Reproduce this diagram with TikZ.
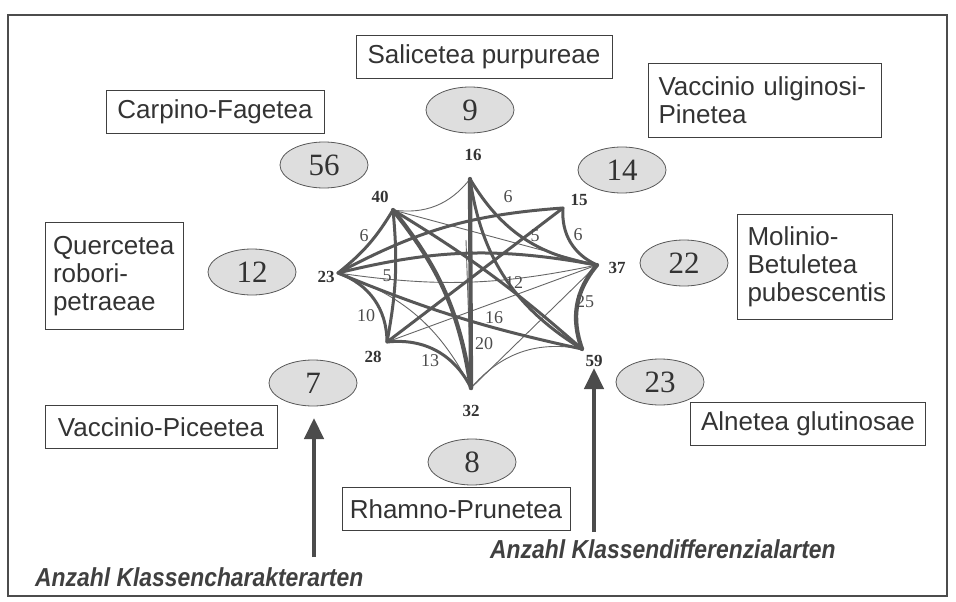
\documentclass[tikz,border=0pt]{standalone}
\usepackage{fontspec}
\setmainfont{Liberation Serif}
\newfontfamily\boxfont{Liberation Sans}
\newfontfamily\capfont[FakeStretch=0.88]{Liberation Sans}
\usetikzlibrary{shapes.geometric,arrows.meta}
\begin{document}
\begin{tikzpicture}[x=1pt,y=1pt,
  box/.style={draw=black!75,line width=0.9pt,font=\boxfont\fontsize{26}{28}\selectfont,text=black!80,inner sep=0pt,minimum height=43pt},
  mbox/.style={box,align=left,inner xsep=8pt,inner ysep=4pt},
  num/.style={ellipse,draw=black!65,fill=black!13,line width=0.8pt,minimum width=88pt,minimum height=46pt,inner sep=0pt,font=\fontsize{31}{31}\selectfont,text=black!80},
  vlab/.style={font=\bfseries\fontsize{17}{17}\selectfont,text=black!80},
  elab/.style={font=\fontsize{18}{18}\selectfont,text=black!70},
  thk/.style={draw=black!66,line width=3pt,line join=round,line cap=round},
  vthk/.style={thk,line width=4.3pt},
  thn/.style={draw=black!60,line width=0.9pt},
  arr/.style={draw=black!70,line width=4.5pt,-{Triangle[width=19pt,length=21pt]}},
  captext/.style={font=\capfont\bfseries\itshape\fontsize{26}{28}\selectfont,text=black!75,inner sep=0pt,anchor=base west}
]
\useasboundingbox (0,0) rectangle (956,-602);
\draw[black!70,line width=1.2pt] (8,-15) rectangle (947,-596);

% boxes
\node[box,minimum width=256pt] (sal) at (484,-57) {Salicetea purpureae};
\node[mbox,inner xsep=10pt,text width=213pt,minimum height=74pt] (vul) at (765,-100) {Vaccinio uliginosi-\\Pinetea};
\node[box,minimum width=218pt] (car) at (215,-112) {Carpino-Fagetea};
\node[mbox,text width=122pt,minimum height=107pt] (que) at (114,-276) {Quercetea\\robori-\\petraeae};
\node[mbox,inner xsep=10pt,text width=135pt,minimum height=105pt] (mol) at (815,-267) {Molinio-\\Betuletea\\pubescentis};
\node[box,minimum width=232pt] (vpi) at (161,-427) {Vaccinio-Piceetea};
\node[box,minimum width=235pt] (aln) at (808,-424) {Alnetea glutinosae};
\node[box,minimum width=228pt] (rha) at (456,-509) {Rhamno-Prunetea};

% ellipses
\node[num] (e9) at (470,-110) {9};
\node[num] (e56) at (324,-165) {56};
\node[num] (e14) at (622,-170) {14};
\node[num] (e12) at (252,-272) {12};
\node[num] (e22) at (684,-263) {22};
\node[num] (e7) at (313,-383) {7};
\node[num] (e23) at (660,-382) {23};
\node[num] (e8) at (472,-462) {8};

% graph vertices
\coordinate (v16) at (470,-179);
\coordinate (v15) at (563,-208);
\coordinate (v37) at (597,-265);
\coordinate (v59) at (582,-349);
\coordinate (v32) at (471,-388);
\coordinate (v28) at (387,-342);
\coordinate (v23) at (338,-273);
\coordinate (v40) at (393,-210);
\coordinate (m16) at (466,-240);

% thin edges
\draw[thn] (v40) to[bend right=30] (v16);
\draw[thn] (v59) to[bend right=30] (v32);
\draw[thn] (v23) to[bend right=10] (v37);
\draw[thn] (v23) to[bend left=22] (v32);
\draw[thn] (v32) -- (v37);
\draw[thn] (v28) -- (v37);
\draw[thn] (v40) -- (v37);
\draw[thn] (m16) -- (v32);

% thick outer edges
\draw[thk] (v23) to[bend right=10] (v40);
\draw[thk] (v28) to[bend right=35] (v23);
\draw[thk] (v32) to[bend right=35] (v28);
\draw[vthk] (v37) to[bend right=30] (v59);
\draw[thk] (v15) to[bend right=35] (v37);
\draw[thk] (v16) to[bend right=25] (v37);

% thick diagonals
\draw[thk] (v23) to[bend left=12] (v15);
\draw[thk] (v23) to[bend left=12] (v37);
\draw[thk] (v23) to[bend right=5] (v59);
\draw[thk] (v40) to[bend left=8] (v28);
\draw[vthk] (v40) to[bend left=15] (v32);
\draw[thk] (v40) to[bend left=5] (v59);
\draw[vthk] (v16) -- (v32);
\draw[thk] (v16) to[bend right=25] (v59);
\draw[thk] (v15) -- (v28);

% vertex labels
\node[vlab] (l16) at (473,-155) {16};
\node[vlab] (l40) at (380,-197) {40};
\node[vlab] (l15) at (579,-200) {15};
\node[vlab] (l23) at (326,-277) {23};
\node[vlab] (l37) at (617,-268) {37};
\node[vlab] (l28) at (373,-357) {28};
\node[vlab] (l59) at (594,-361) {59};
\node[vlab] (l32) at (471,-411) {32};

% edge labels
\node[elab] (a1) at (364,-236) {6};
\node[elab] (a2) at (387,-276) {5};
\node[elab] (a3) at (366,-316) {10};
\node[elab] (a4) at (430,-361) {13};
\node[elab] (a5) at (484,-344) {20};
\node[elab] (a6) at (494,-318) {16};
\node[elab] (a7) at (514,-283) {12};
\node[elab] (a8) at (585,-302) {25};
\node[elab] (a9) at (578,-235) {6};
\node[elab] (a10) at (535,-236) {5};
\node[elab] (a11) at (508,-197) {6};

% arrows
\coordinate (t1) at (314,-557);
\coordinate (h1) at (314,-418);
\coordinate (t2) at (594,-532);
\coordinate (h2) at (594,-368);
\draw[arr] (t1) -- (h1);
\draw[arr] (t2) -- (h2);

\node[captext] (c1) at (35,-586) {Anzahl Klassencharakterarten};
\node[captext] (c2) at (490,-558) {Anzahl Klassendifferenzialarten};
\end{tikzpicture}
\end{document}
